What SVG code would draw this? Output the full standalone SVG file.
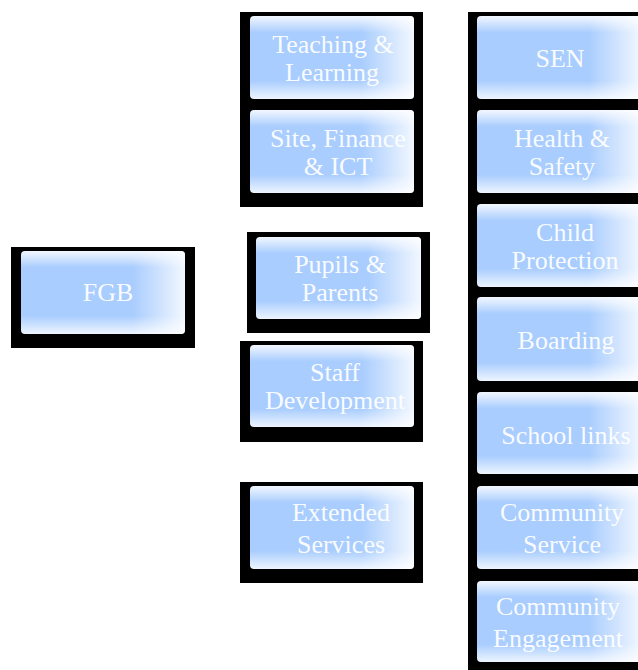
<svg xmlns="http://www.w3.org/2000/svg" width="638" height="670" viewBox="0 0 638 670">
<defs>
<linearGradient id="gv" x1="0" y1="0" x2="0" y2="1">
<stop offset="0" stop-color="#f2f7ff"/>
<stop offset="0.2" stop-color="#a9cdfe"/>
<stop offset="0.78" stop-color="#a9cdfe"/>
<stop offset="1" stop-color="#eef5ff"/>
</linearGradient>
<linearGradient id="gh" x1="0" y1="0" x2="1" y2="0">
<stop offset="0" stop-color="#ffffff" stop-opacity="0"/>
<stop offset="0.68" stop-color="#ffffff" stop-opacity="0"/>
<stop offset="1" stop-color="#ffffff" stop-opacity="0.85"/>
</linearGradient>
</defs>
<style>
.frame{fill:#000}
.bg{fill:url(#gv)}
.fade{fill:url(#gh)}
text{font-family:"Liberation Serif","DejaVu Serif",serif;font-size:26px;fill:#ffffff;fill-opacity:0.95;text-anchor:middle}
</style>
<rect width="638" height="670" fill="#ffffff"/>
<g id="frames">
<rect class="frame" x="11" y="247" width="184" height="101"/>
<rect class="frame" x="240" y="12" width="183" height="195"/>
<rect class="frame" x="247" y="232" width="183" height="101"/>
<rect class="frame" x="240" y="341" width="183" height="101"/>
<rect class="frame" x="240" y="482" width="183" height="101"/>
<rect class="frame" x="468" y="12" width="180" height="670"/>
</g>
<g id="connectors"/>
<g id="fgb">
<rect class="bg" x="21" y="251" width="164" height="83" rx="4"/>
<rect class="fade" x="21" y="251" width="164" height="83" rx="4"/>
<text x="108" y="301">FGB</text>
</g>
<g id="teaching">
<rect class="bg" x="250" y="16" width="164" height="83" rx="4"/>
<rect class="fade" x="250" y="16" width="164" height="83" rx="4"/>
<text x="333" y="53">Teaching &amp;</text>
<text x="332" y="81">Learning</text>
</g>
<g id="site">
<rect class="bg" x="250" y="110" width="164" height="83" rx="4"/>
<rect class="fade" x="250" y="110" width="164" height="83" rx="4"/>
<text x="338" y="147">Site, Finance</text>
<text x="338" y="175">&amp; ICT</text>
</g>
<g id="pupils">
<rect class="bg" x="256" y="237" width="165" height="82" rx="4"/>
<rect class="fade" x="256" y="237" width="165" height="82" rx="4"/>
<text x="340" y="273">Pupils &amp;</text>
<text x="340" y="301">Parents</text>
</g>
<g id="staff">
<rect class="bg" x="250" y="345" width="164" height="82" rx="4"/>
<rect class="fade" x="250" y="345" width="164" height="82" rx="4"/>
<text x="335" y="381">Staff</text>
<text x="335" y="409">Development</text>
</g>
<g id="extended">
<rect class="bg" x="250" y="486" width="164" height="83" rx="4"/>
<rect class="fade" x="250" y="486" width="164" height="83" rx="4"/>
<text x="341" y="521">Extended</text>
<text x="341" y="553">Services</text>
</g>
<g id="sen">
<rect class="bg" x="477" y="16" width="164" height="83" rx="4"/>
<rect class="fade" x="477" y="16" width="164" height="83" rx="4"/>
<text x="560" y="67">SEN</text>
</g>
<g id="health">
<rect class="bg" x="477" y="110" width="164" height="83" rx="4"/>
<rect class="fade" x="477" y="110" width="164" height="83" rx="4"/>
<text x="562" y="147">Health &amp;</text>
<text x="562" y="175">Safety</text>
</g>
<g id="child">
<rect class="bg" x="477" y="204" width="164" height="83" rx="4"/>
<rect class="fade" x="477" y="204" width="164" height="83" rx="4"/>
<text x="565" y="241">Child</text>
<text x="565" y="269">Protection</text>
</g>
<g id="boarding">
<rect class="bg" x="477" y="297" width="164" height="84" rx="4"/>
<rect class="fade" x="477" y="297" width="164" height="84" rx="4"/>
<text x="566" y="349">Boarding</text>
</g>
<g id="school">
<rect class="bg" x="477" y="392" width="164" height="82" rx="4"/>
<rect class="fade" x="477" y="392" width="164" height="82" rx="4"/>
<text x="566" y="444">School links</text>
</g>
<g id="community-service">
<rect class="bg" x="477" y="486" width="164" height="83" rx="4"/>
<rect class="fade" x="477" y="486" width="164" height="83" rx="4"/>
<text x="562" y="521">Community</text>
<text x="562" y="553">Service</text>
</g>
<g id="community-engagement">
<rect class="bg" x="477" y="581" width="164" height="81" rx="4"/>
<rect class="fade" x="477" y="581" width="164" height="81" rx="4"/>
<text x="558" y="615">Community</text>
<text x="558" y="647">Engagement</text>
</g>
</svg>
